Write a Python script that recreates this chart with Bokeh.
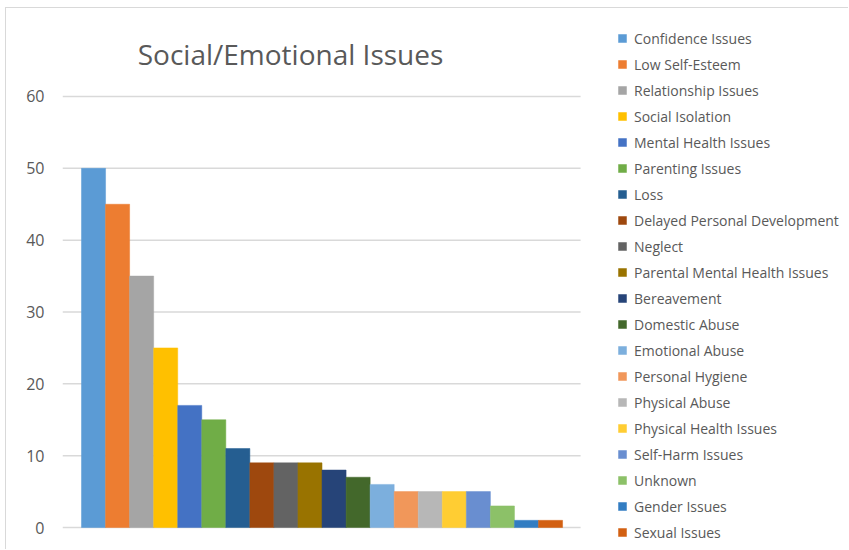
from bokeh.plotting import figure
from bokeh.models import ColumnDataSource, Legend, LegendItem, Range1d, FixedTicker, Label
from bokeh.embed import file_html
from bokeh.resources import INLINE

categories = [
    "Confidence Issues", "Low Self-Esteem", "Relationship Issues", "Social Isolation",
    "Mental Health Issues", "Parenting Issues", "Loss", "Delayed Personal Development",
    "Neglect", "Parental Mental Health Issues", "Bereavement", "Domestic Abuse",
    "Emotional Abuse", "Personal Hygiene", "Physical Abuse", "Physical Health Issues",
    "Self-Harm Issues", "Unknown", "Gender Issues", "Sexual Issues",
]
counts = [50, 45, 35, 25, 17, 15, 11, 9, 9, 9, 8, 7, 6, 5, 5, 5, 5, 3, 1, 1]
colors = [
    "#5B9BD5", "#ED7D31", "#A5A5A5", "#FFC000", "#4472C4", "#70AD47", "#255E91",
    "#9E480E", "#636363", "#997300", "#264478", "#43682B", "#7CAFDD", "#F1975A",
    "#B7B7B7", "#FFCD33", "#698ED0", "#8CC168", "#327DC2", "#D26012",
]
y_ticks = [0, 10, 20, 30, 40, 50, 60]

FONT = "Open Sans"
GREY_TEXT = "#595959"

# plot area spans the whole canvas right of the value axis so that the
# title and legend can sit inside it; the grid is drawn only under the bars
X0, X1 = -1.29, 31.43
GRID_END = 20.25

p = figure(
    width=843, height=542,
    output_backend="svg", toolbar_location=None,
    x_range=Range1d(X0, X1), y_range=Range1d(-3.2, 72.25),
    min_border_left=56, min_border_right=0,
    min_border_top=0, min_border_bottom=0,
)
p.styles = {
    "margin-left": "5px", "margin-top": "7px",
    "border-left": "1px solid #D9D9D9", "border-top": "1px solid #D9D9D9",
}
p.outline_line_color = None
p.background_fill_color = "white"
p.border_fill_color = "white"

p.xaxis.visible = False
p.xgrid.visible = False
p.ygrid.visible = False
p.yaxis.ticker = FixedTicker(ticks=y_ticks)
p.yaxis.axis_line_color = None
p.yaxis.major_tick_line_color = None
p.yaxis.minor_tick_line_color = None
p.yaxis.major_label_text_font = FONT
p.yaxis.major_label_text_font_size = "16px"
p.yaxis.major_label_text_color = GREY_TEXT
p.yaxis.major_label_standoff = 12

grid = ColumnDataSource(dict(y=y_ticks, x0=[X0] * len(y_ticks), x1=[GRID_END] * len(y_ticks)))
p.segment(x0="x0", x1="x1", y0="y", y1="y", source=grid,
          line_color="#D9D9D9", line_width=1.5)

items = []
for i, (name, val, col) in enumerate(zip(categories, counts, colors)):
    src = ColumnDataSource(dict(x=[i], top=[val]))
    r = p.vbar(x="x", top="top", bottom=0, width=1.0, source=src,
               fill_color=col, line_color=col, line_width=0.5)
    items.append(LegendItem(label=name, renderers=[r]))

legend = Legend(
    items=items, location=(555, 8),
    padding=0, margin=0, spacing=6,
    label_height=20, glyph_height=10, glyph_width=10,
    label_standoff=7,
    label_text_font=FONT, label_text_font_size="14px",
    label_text_color=GREY_TEXT,
    border_line_color=None, background_fill_alpha=0,
)
p.add_layout(legend, "center")

p.add_layout(Label(
    x=8.19, y=65.9, text="Social/Emotional Issues",
    text_font=FONT, text_font_size="28px", text_color=GREY_TEXT,
    text_align="center", text_baseline="middle",
))

open("out.html", "w").write(file_html(p, INLINE))
